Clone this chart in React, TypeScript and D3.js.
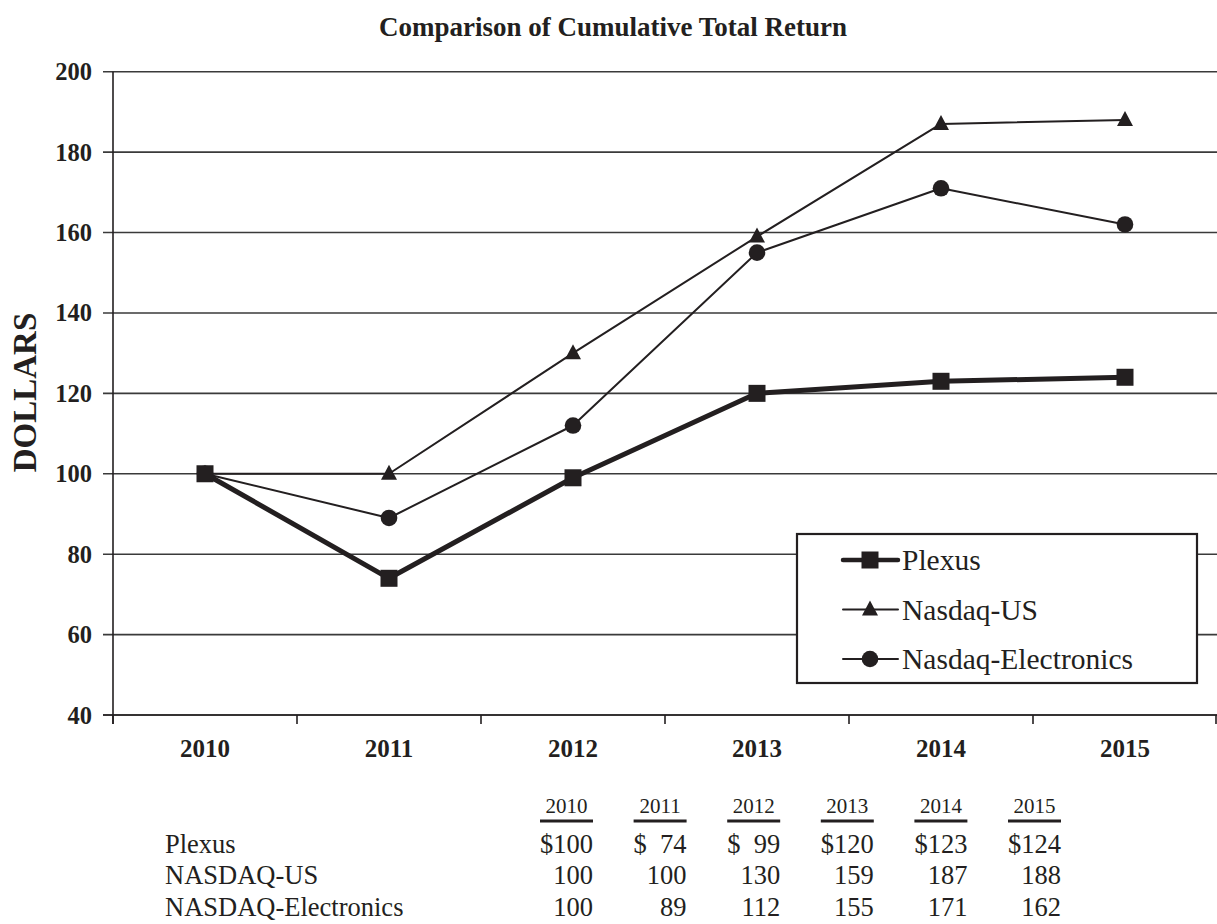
import React from "react";
import * as d3 from "d3";

const years = ["2010", "2011", "2012", "2013", "2014", "2015"];
const plexus = [100, 74, 99, 120, 123, 124];
const nasdaqUS = [100, 100, 130, 159, 187, 188];
const nasdaqElec = [100, 89, 112, 155, 171, 162];
const yTicks = [40, 60, 80, 100, 120, 140, 160, 180, 200];
const legendNames = ["Plexus", "Nasdaq-US", "Nasdaq-Electronics"];
const tableRowNames = ["Plexus", "NASDAQ-US", "NASDAQ-Electronics"];

const W = 1217;
const H = 924;
const FONT = "'Liberation Serif', 'Times New Roman', serif";

type Marker = "square" | "triangle" | "circle";

function MarkerShape({ type, x, y }: { type: Marker; x: number; y: number }) {
  if (type === "square") return <rect x={x - 8.5} y={y - 8.5} width={17} height={17} fill="#231f20" />;
  if (type === "triangle") {
    const p = d3.path();
    p.moveTo(x, y - 9);
    p.lineTo(x + 8, y + 6);
    p.lineTo(x - 8, y + 6);
    p.closePath();
    return <path d={p.toString()} fill="#231f20" />;
  }
  return <circle cx={x} cy={y} r={8.3} fill="#231f20" />;
}

export default function App() {
  const x = d3.scaleBand<string>().domain(years).range([113, 1217]);
  const y = d3.scaleLinear().domain([40, 200]).range([715, 71.7]);
  const cx = (yr: string) => (x(yr) ?? 0) + x.bandwidth() / 2;

  const series: { name: string; values: number[]; marker: Marker; width: number }[] = [
    { name: legendNames[1], values: nasdaqUS, marker: "triangle", width: 2 },
    { name: legendNames[2], values: nasdaqElec, marker: "circle", width: 2 },
    { name: legendNames[0], values: plexus, marker: "square", width: 5 },
  ];

  const line = d3
    .line<number>()
    .x((_, i) => cx(years[i]))
    .y((d) => y(d));

  // table columns
  const colRight = d3.scaleLinear().domain([0, years.length - 1]).range([593, 1061]);
  const colW = 53;
  const tableRows = [plexus, nasdaqUS, nasdaqElec];
  const rowBase = d3.scaleLinear().domain([0, 2]).range([853, 915.5]);

  const legendItems: { name: string; marker: Marker; width: number }[] = [
    { name: legendNames[0], marker: "square", width: 4.5 },
    { name: legendNames[1], marker: "triangle", width: 2 },
    { name: legendNames[2], marker: "circle", width: 2 },
  ];
  const legendY = d3.scaleLinear().domain([0, 2]).range([560, 659]);

  return (
    <svg
      width={W}
      height={H}
      style={{ position: "absolute", left: 0, top: 0, display: "block", background: "#fff" }}
      fontFamily={FONT}
    >
      <rect x={0} y={0} width={W} height={H} fill="#fff" />
      {/* Title */}
      <text x={613} y={36} textAnchor="middle" fontWeight="bold" fontSize={27} fill="#231f20">
        Comparison of Cumulative Total Return
      </text>

      {/* Grid lines */}
      {yTicks.map((t) => (
        <line key={"g" + t} x1={103} x2={1217} y1={y(t)} y2={y(t)} stroke="#3a3a3a" strokeWidth={1.6} />
      ))}
      {/* Y tick labels */}
      {yTicks.map((t) => (
        <text key={"yl" + t} x={92} y={y(t) + 8.5} textAnchor="end" fontWeight="bold" fontSize={24.5} fill="#231f20">
          {t}
        </text>
      ))}

      {/* Axes */}
      <line x1={113} x2={113} y1={y(200)} y2={724} stroke="#231f20" strokeWidth={1.6} />
      <line x1={103} x2={1217} y1={y(40)} y2={y(40)} stroke="#231f20" strokeWidth={1.6} />
      {[...years.map((yr) => x(yr) ?? 0), 1216].map((xv, i) => (
        <line key={"xt" + i} x1={xv} x2={xv} y1={y(40)} y2={724} stroke="#231f20" strokeWidth={1.6} />
      ))}
      {years.map((yr) => (
        <text key={"xl" + yr} x={cx(yr)} y={757} textAnchor="middle" fontWeight="bold" fontSize={25} fill="#231f20">
          {yr}
        </text>
      ))}

      {/* Y axis title */}
      <text
        transform={`translate(36, 392.5) rotate(-90)`}
        textAnchor="middle"
        fontWeight="bold"
        fontSize={33}
        fill="#231f20"
      >
        DOLLARS
      </text>

      {/* Lines */}
      {series.map((s) => (
        <g key={s.name}>
          <path d={line(s.values) ?? ""} fill="none" stroke="#231f20" strokeWidth={s.width} strokeLinejoin="round" />
          {s.values.map((v, i) => (
            <MarkerShape key={i} type={s.marker} x={cx(years[i])} y={y(v)} />
          ))}
        </g>
      ))}

      {/* Legend */}
      <rect x={797} y={534} width={400} height={149} fill="#fff" stroke="#231f20" strokeWidth={2.2} />
      {legendItems.map((it, i) => {
        const ly = legendY(i);
        return (
          <g key={it.name}>
            <line x1={843} x2={898} y1={ly} y2={ly} stroke="#231f20" strokeWidth={it.width} strokeLinecap="round" />
            <MarkerShape type={it.marker} x={870} y={ly} />
            <text x={902} y={ly + 10} fontSize={29.5} fill="#231f20">
              {it.name}
            </text>
          </g>
        );
      })}

      {/* Data table */}
      {years.map((yr, i) => (
        <g key={"th" + yr}>
          <text x={colRight(i) - colW / 2} y={813} textAnchor="middle" fontSize={21} fill="#231f20">
            {yr}
          </text>
          <line
            x1={colRight(i) - colW}
            x2={colRight(i)}
            y1={821}
            y2={821}
            stroke="#231f20"
            strokeWidth={3}
          />
        </g>
      ))}
      {tableRowNames.map((nm, r) => (
        <g key={"tr" + nm}>
          <text x={165} y={rowBase(r)} fontSize={26.5} fill="#231f20">
            {nm}
          </text>
          {tableRows[r].map((v, i) => (
            <g key={i}>
              {r === 0 && (
                <text x={colRight(i) - colW} y={rowBase(r)} fontSize={26.5} fill="#231f20">
                  $
                </text>
              )}
              <text x={colRight(i)} y={rowBase(r)} textAnchor="end" fontSize={26.5} fill="#231f20">
                {v}
              </text>
            </g>
          ))}
        </g>
      ))}
    </svg>
  );
}
